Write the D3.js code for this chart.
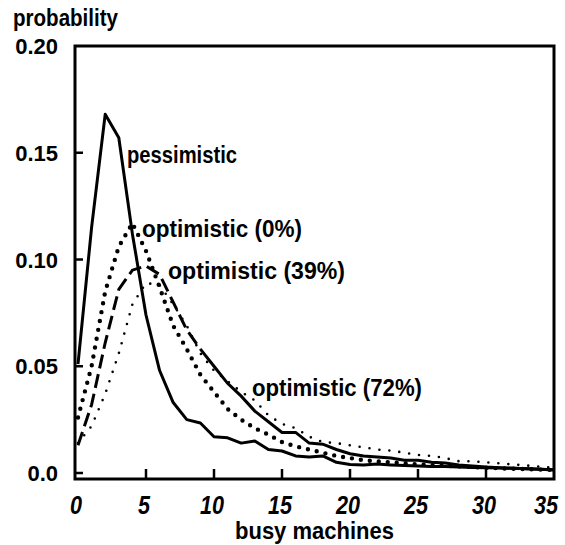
<!DOCTYPE html>
<html>
<head>
<meta charset="utf-8">
<script src="https://cdn.jsdelivr.net/npm/d3@7"></script>
<style>
  body { margin: 0; background: #fff; }
  text { font-family: "Liberation Sans", Arial, sans-serif; font-weight: bold; fill: #000; }
</style>
</head>
<body>
<script>
// busy machine counts and probability curves
var busy = [0, 1, 2, 3, 4, 5, 6, 7, 8, 9, 10, 11, 12, 13, 14, 15, 16, 17,
            18, 19, 20, 21, 22, 23, 24, 25, 26, 27, 28, 29, 30, 31, 32, 33, 34, 35];

var pessimistic = [0.051, 0.115, 0.168, 0.157, 0.112, 0.074, 0.048, 0.033, 0.025, 0.0234,
                   0.017, 0.0165, 0.014, 0.015, 0.011, 0.0103, 0.008, 0.0075, 0.008, 0.005,
                   0.004, 0.0038, 0.0042, 0.0038, 0.0035, 0.0033, 0.003, 0.003, 0.0028, 0.0026,
                   0.0025, 0.0024, 0.0022, 0.002, 0.0018, 0.0015];

var optimistic0 = [0.026, 0.05, 0.085, 0.106, 0.117, 0.104, 0.087, 0.069, 0.058, 0.046,
                   0.038, 0.030, 0.025, 0.021, 0.018, 0.0145, 0.0125, 0.011, 0.0095, 0.008,
                   0.007, 0.006, 0.0055, 0.005, 0.0045, 0.004, 0.0037, 0.0034, 0.0031, 0.0028,
                   0.0025, 0.0022, 0.002, 0.0018, 0.0016, 0.0014];

var optimistic39 = [0.013, 0.032, 0.061, 0.086, 0.095, 0.097, 0.093, 0.080, 0.067, 0.058,
                    0.050, 0.042, 0.036, 0.029, 0.024, 0.019, 0.019, 0.014, 0.0135, 0.011,
                    0.009, 0.008, 0.0075, 0.007, 0.006, 0.006, 0.005, 0.0047, 0.0037, 0.0033,
                    0.0028, 0.0025, 0.0022, 0.002, 0.0017, 0.0014];

var optimistic72 = [0.014, 0.022, 0.037, 0.056, 0.079, 0.089, 0.088, 0.079, 0.069, 0.056,
                    0.048, 0.043, 0.038, 0.034, 0.027, 0.023, 0.021, 0.017, 0.0145, 0.014,
                    0.013, 0.012, 0.011, 0.0105, 0.0095, 0.0085, 0.008, 0.007, 0.0055, 0.0055,
                    0.005, 0.0045, 0.004, 0.0035, 0.003, 0.0025];

var xTicks = [0, 5, 10, 15, 20, 25, 30, 35];
var yTicks = [0.0, 0.05, 0.10, 0.15, 0.20];
var yTickLabels = ["0.0", "0.05", "0.10", "0.15", "0.20"];

var width = 565, height = 545;

var svg = d3.select("body").append("svg")
    .attr("width", width)
    .attr("height", height);

var x = d3.scaleLinear().domain([0, 35]).range([78, 554]);
var y = d3.scaleLinear().domain([0, 0.2]).range([473, 46]);

var frameLeft = 75, frameBottom = 479;

// frame
svg.append("rect")
    .attr("x", frameLeft)
    .attr("y", y(0.2))
    .attr("width", x(35) - frameLeft)
    .attr("height", frameBottom - y(0.2))
    .attr("fill", "none")
    .attr("stroke", "#000")
    .attr("stroke-width", 3);

// y ticks (inward) and labels
svg.selectAll(".ytick").data(yTicks.slice(0, 4)).enter().append("line")
    .attr("x1", frameLeft).attr("x2", frameLeft + 8)
    .attr("y1", function(d) { return y(d); })
    .attr("y2", function(d) { return y(d); })
    .attr("stroke", "#000").attr("stroke-width", 2.5);

svg.selectAll(".ylab").data(yTicks).enter().append("text")
    .attr("x", 58)
    .attr("y", function(d) { return y(d) + 8; })
    .attr("text-anchor", "end")
    .style("font-size", "22px")
    .text(function(d, i) { return yTickLabels[i]; });

// x ticks (inward) and labels
svg.selectAll(".xtick").data(xTicks.slice(1, 7)).enter().append("line")
    .attr("x1", function(d) { return x(d); })
    .attr("x2", function(d) { return x(d); })
    .attr("y1", frameBottom).attr("y2", frameBottom - 10)
    .attr("stroke", "#000").attr("stroke-width", 2.5);

svg.selectAll(".xlab").data(xTicks).enter().append("text")
    .attr("x", function(d) { return Math.min(x(d) - 2, 546); })
    .attr("y", 514)
    .attr("text-anchor", "middle")
    .attr("textLength", function(d) { return String(d).length * 12; })
    .attr("lengthAdjust", "spacingAndGlyphs")
    .style("font-size", "25px")
    .style("font-style", "italic")
    .text(function(d) { return d; });

// axis titles (squeezed to the narrow face of the original)
svg.append("text")
    .attr("x", 13).attr("y", 26)
    .attr("textLength", 105)
    .attr("lengthAdjust", "spacingAndGlyphs")
    .style("font-size", "23px")
    .text("probability");

svg.append("text")
    .attr("x", 235).attr("y", 539)
    .attr("textLength", 159)
    .attr("lengthAdjust", "spacingAndGlyphs")
    .style("font-size", "23px")
    .text("busy machines");

var line = d3.line()
    .x(function(d) { return x(d[0]); })
    .y(function(d) { return y(d[1]); });

function pairs(vals) {
  return busy.map(function(b, i) { return [b, vals[i]]; });
}

// optimistic (72%) - fine dots
svg.append("path")
    .attr("d", line(pairs(optimistic72)))
    .attr("fill", "none")
    .attr("stroke", "#000")
    .attr("stroke-width", 2.6)
    .attr("stroke-linecap", "round")
    .attr("stroke-dasharray", "0,10");

// optimistic (0%) - heavy dots
svg.append("path")
    .attr("d", line(pairs(optimistic0)))
    .attr("fill", "none")
    .attr("stroke", "#000")
    .attr("stroke-width", 4.4)
    .attr("stroke-linecap", "round")
    .attr("stroke-dasharray", "0,9");

// optimistic (39%) - dashed at first, then continuous
var p39 = pairs(optimistic39);
svg.append("path")
    .attr("d", line(p39.slice(0, 10)))
    .attr("fill", "none")
    .attr("stroke", "#000")
    .attr("stroke-width", 3)
    .attr("stroke-dasharray", "14,6");
svg.append("path")
    .attr("d", line(p39.slice(9)))
    .attr("fill", "none")
    .attr("stroke", "#000")
    .attr("stroke-width", 3);

// pessimistic - solid
svg.append("path")
    .attr("d", line(pairs(pessimistic)))
    .attr("fill", "none")
    .attr("stroke", "#000")
    .attr("stroke-width", 3)
    .attr("stroke-linejoin", "round");

// curve labels
var labels = [
  {t: "pessimistic", x: 127, y: 163, w: 110},
  {t: "optimistic (0%)", x: 142, y: 237, w: 160},
  {t: "optimistic (39%)", x: 168, y: 279, w: 177},
  {t: "optimistic (72%)", x: 252, y: 396, w: 170}
];
svg.selectAll(".clab").data(labels).enter().append("text")
    .attr("x", function(d) { return d.x; })
    .attr("y", function(d) { return d.y; })
    .attr("textLength", function(d) { return d.w; })
    .attr("lengthAdjust", "spacingAndGlyphs")
    .style("font-size", "23px")
    .text(function(d) { return d.t; });
</script>
</body>
</html>
